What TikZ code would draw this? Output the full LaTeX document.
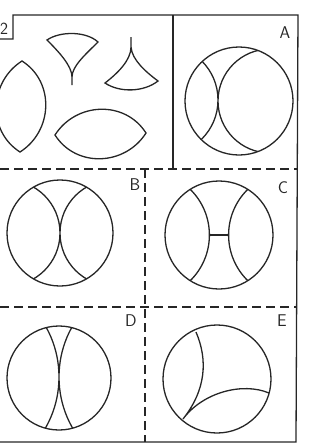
\documentclass[tikz,border=0pt]{standalone}
\begin{document}
\begin{tikzpicture}[x=1pt,y=-1pt,
    ln/.style={line width=1.3pt,black!85},
    dsh/.style={ln,dash pattern=on 9pt off 5pt},
    lbl/.style={font=\fontsize{17}{17}\sffamily,text=black!85,inner sep=0pt}]
  \useasboundingbox (0,0) rectangle (320,445);
  % frame and panel borders
  \draw[ln] (0,39) -- (13,39) -- (13,15) -- (298,15) -- (296,442) -- (0,442);
  \draw[ln] (173,15) -- (173,169);
  \draw[dsh] (0,169) -- (298,169);
  \draw[dsh] (0,307) -- (297,307);
  \draw[dsh] (145,169) -- (145,442);
  \node[lbl] (num) at (4,29) {2};
  \foreach \t/\x/\y in {A/285/33,B/135/185,C/283/188,D/131/321,E/282/321}
    \node[lbl] (lbl\t) at (\x,\y) {\t};
  % pieces: two lenses, two curved triangles
  \draw[ln] (22,61) .. controls (55,82) and (53,131) .. (20,152)
    .. controls (-13,131) and (-11,82) .. cycle;
  \draw[ln] (55,135) .. controls (76,102) and (125,100) .. (146,133)
    .. controls (125,166) and (76,168) .. cycle;
  \draw[ln] (72,85) -- (72,77) .. controls (72,66) and (59,52) .. (47,40)
    .. controls (60,31) and (86,31) .. (98,42)
    .. controls (86,54) and (72,66) .. (72,77);
  \draw[ln] (131,37) -- (131,47) .. controls (131,60) and (118,73) .. (105,83)
    .. controls (120,93) and (144,92) .. (158,81)
    .. controls (146,72) and (132,60) .. (131,47);
  % A
  \draw[ln] (239,101) circle[radius=54];
  \begin{scope}
    \clip (239,101) circle[radius=54];
    \draw[ln] (270,101) circle[radius=52] (163,100) circle[radius=55];
  \end{scope}
  % B
  \draw[ln] (60,233) circle[radius=53];
  \begin{scope}
    \clip (60,233) circle[radius=53];
    \draw[ln] (7,233) circle[radius=53] (113,233) circle[radius=53];
  \end{scope}
  % C
  \draw[ln] (219,235) circle[radius=54];
  \begin{scope}
    \clip (219,235) circle[radius=54];
    \draw[ln] (145.4,235) circle[radius=64] (292.6,235) circle[radius=64];
  \end{scope}
  \draw[ln] (209.4,235) -- (228.6,235);
  % D
  \draw[ln] (59,378) circle[radius=52];
  \begin{scope}
    \clip (59,378) circle[radius=52];
    \draw[ln] (-43.7,377) circle[radius=102.7] (161.7,377) circle[radius=102.7];
  \end{scope}
  % E
  \draw[ln] (217,379) circle[radius=54];
  \draw[ln] (196,332) .. controls (208,360) and (206,390) .. (183,419)
    .. controls (203,392) and (243,382) .. (269,393);
\end{tikzpicture}
\end{document}
